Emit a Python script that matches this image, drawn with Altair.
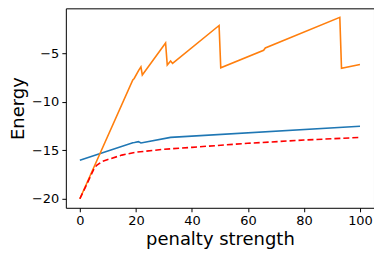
import altair as alt
import pandas as pd

blue_x = [0, 18.9, 19.5, 20.9, 21.8, 32.4, 100]
blue_y = [-16.02, -14.22, -14.2, -14.11, -14.25, -13.67, -12.52]

orange_x = [0, 18.9, 19.4, 21.0, 21.8, 22.3, 30.6, 31.2, 32.4, 33.1, 49.7, 50.3, 65.6, 66.2, 92.8, 93.4, 100]
orange_y = [-20.0, -7.76, -7.6, -6.77, -6.4, -7.24, -3.95, -6.22, -5.8, -6.05, -2.14, -6.5, -4.69, -4.46, -1.3, -6.56, -6.15]

red_x = [0, 2, 4, 5, 6, 8, 10, 15, 20, 30, 40, 60, 80, 100]
red_y = [-20.0, -18.8, -17.55, -16.95, -16.55, -16.15, -15.95, -15.5, -15.2, -14.9, -14.7, -14.28, -13.95, -13.68]

x_ticks = [0, 20, 40, 60, 80, 100]
y_ticks = [-20, -15, -10, -5]

df_b = pd.DataFrame({"x": blue_x, "y": blue_y})
df_o = pd.DataFrame({"x": orange_x, "y": orange_y})
df_r = pd.DataFrame({"x": red_x, "y": red_y})

xs = alt.Scale(domain=[-5, 105], nice=False, zero=False)
ys = alt.Scale(domain=[-20.93, -0.37], nice=False, zero=False)

xax = alt.Axis(values=x_ticks, title="penalty strength", grid=False, labelFontSize=13,
               titleFontSize=18, titleFontWeight="normal", tickColor="black", domain=False,
               labelColor="black", titleColor="black", tickSize=4, labelPadding=3, titlePadding=3,
               labelFont="DejaVu Sans", titleFont="DejaVu Sans", labelFlush=False)
yax = alt.Axis(values=y_ticks, title="Energy", grid=False, labelFontSize=13,
               titleFontSize=18, titleFontWeight="normal", tickColor="black", domain=False,
               labelColor="black", titleColor="black", tickSize=4, labelPadding=3, titlePadding=4,
               labelFont="DejaVu Sans", titleFont="DejaVu Sans", labelFlush=False)

def line(df, color, dash=None):
    kw = dict(color=color, strokeWidth=1.6, clip=True)
    if dash:
        kw["strokeDash"] = dash
    return alt.Chart(df).mark_line(**kw).encode(
        x=alt.X("x:Q", scale=xs, axis=xax),
        y=alt.Y("y:Q", scale=ys, axis=yax),
        order="x:Q",
    )

chart = alt.layer(
    line(df_b, "#1f77b4"),
    line(df_o, "#ff7f0e"),
    line(df_r, "#ff0000", [6, 3]),
).properties(
    width=309, height=200,
    background="white",
    autosize=alt.AutoSizeParams(type="none"),
    padding={"left": 58, "top": 0, "right": 0, "bottom": 45},
).configure_view(stroke="black", strokeWidth=1)

chart.save("out.html", embed_options={"renderer": "svg", "actions": False})
